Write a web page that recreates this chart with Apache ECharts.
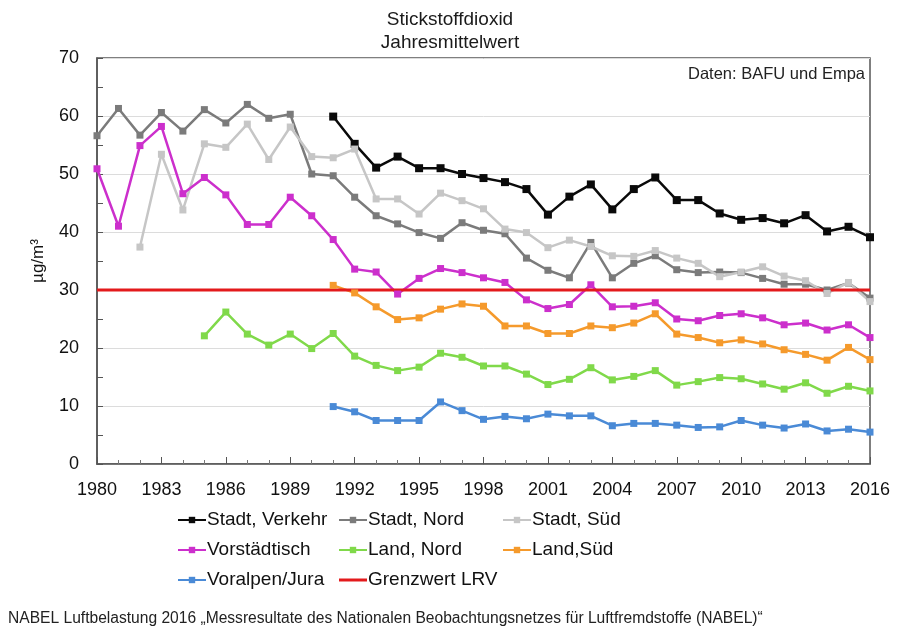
<!DOCTYPE html>
<html>
<head>
<meta charset="utf-8">
<script src="https://cdn.jsdelivr.net/npm/echarts@6/dist/echarts.min.js"></script>
<style>
html,body{margin:0;padding:0;background:#fff;}
#chart{width:900px;height:638px;}
</style>
</head>
<body>
<div id="chart"></div>
<script>
const years = [];
for (let y = 1980; y <= 2016; y++) years.push(y);

const stadtVerkehr = [null,null,null,null,null,null,null,null,null,null,
  null,59.9,55.2,51.1,53.0,51.0,51.0,50.0,49.3,48.6,
  47.4,43.0,46.1,48.2,43.9,47.4,49.4,45.5,45.5,43.2,
  42.1,42.4,41.5,42.9,40.1,40.9,39.1];
const stadtNord = [56.6,61.3,56.7,60.6,57.4,61.1,58.8,62.0,59.6,60.3,
  50.0,49.7,46.0,42.8,41.4,39.9,38.9,41.6,40.3,39.7,
  35.5,33.4,32.1,38.2,32.1,34.6,35.9,33.5,33.0,33.1,
  33.0,32.0,31.0,31.0,30.0,31.2,28.6];
const stadtSued = [null,null,37.4,53.4,43.8,55.2,54.6,58.6,52.5,58.1,
  53.0,52.8,54.3,45.7,45.7,43.1,46.7,45.4,44.0,40.5,
  39.9,37.3,38.6,37.5,35.9,35.8,36.8,35.5,34.6,32.3,
  33.1,34.0,32.4,31.6,29.4,31.3,28.0];
const vorstaedtisch = [50.9,41.0,54.9,58.2,46.6,49.4,46.4,41.3,41.3,46.0,
  42.8,38.7,33.6,33.1,29.3,32.0,33.7,33.0,32.1,31.3,
  28.3,26.8,27.5,30.9,27.1,27.2,27.8,25.0,24.7,25.6,
  25.9,25.2,24.0,24.3,23.1,24.0,21.8];
const landNord = [null,null,null,null,null,22.1,26.2,22.4,20.5,22.4,
  19.9,22.5,18.6,17.0,16.1,16.7,19.1,18.4,16.9,16.9,
  15.5,13.7,14.6,16.6,14.5,15.1,16.1,13.6,14.2,14.9,
  14.7,13.8,12.9,14.0,12.2,13.4,12.6];
const landSued = [null,null,null,null,null,null,null,null,null,null,
  null,30.8,29.5,27.1,24.9,25.2,26.7,27.6,27.2,23.8,
  23.8,22.5,22.5,23.8,23.5,24.3,25.9,22.4,21.8,20.9,
  21.4,20.7,19.7,18.9,17.9,20.1,18.0];
const voralpen = [null,null,null,null,null,null,null,null,null,null,
  null,9.9,9.0,7.5,7.5,7.5,10.7,9.2,7.7,8.2,
  7.8,8.6,8.3,8.3,6.6,7.0,7.0,6.7,6.3,6.4,
  7.5,6.7,6.2,6.9,5.7,6.0,5.5];
const grenzwertYears = [1980, 2016];
const grenzwert = [30, 30];

const FONT = '"Liberation Sans", Arial, sans-serif';

function pairs(xs, ys) { return xs.map((x, i) => [x, ys[i]]); }

function lineSeries(name, data, color, size) {
  return {
    name: name, type: 'line', data: pairs(years, data),
    symbol: 'rect', symbolSize: size || 7,
    itemStyle: { color: color },
    lineStyle: { color: color, width: 2.5 },
    emphasis: { disabled: true }, animation: false
  };
}

const chart = echarts.init(document.getElementById('chart'), null, { renderer: 'canvas' });

const legendBase = {
  orient: 'vertical', top: 505, itemWidth: 28, itemHeight: 8, itemGap: 10,
  textStyle: { fontFamily: FONT, fontSize: 19, color: '#111', lineHeight: 20, padding: [0,0,0,-4] },
  selectedMode: false
};

chart.setOption({
  backgroundColor: '#fff',
  animation: false,
  textStyle: { fontFamily: FONT },
  title: {
    text: 'Stickstoffdioxid\nJahresmittelwert',
    left: 'center', top: 3,
    textStyle: { fontFamily: FONT, fontSize: 19, fontWeight: 'normal', color: '#1a1a1a', lineHeight: 23 }
  },
  legend: [
    Object.assign({}, legendBase, { left: 172, data: ['Stadt, Verkehr', 'Vorstädtisch', 'Voralpen/Jura'] }),
    Object.assign({}, legendBase, { left: 333, data: ['Stadt, Nord', 'Land, Nord',
      { name: 'Grenzwert LRV', icon: 'path://M0 0H28V3H0Z', itemStyle: { color: '#e31a1c' } }] }),
    Object.assign({}, legendBase, { left: 497, data: ['Stadt, Süd', 'Land,Süd'] })
  ],
  grid: { left: 97, right: 30, top: 58, bottom: 174, show: true, borderColor: '#555', borderWidth: 1.5 },
  xAxis: {
    type: 'value', min: 1980, max: 2016, interval: 3,
    axisLine: { lineStyle: { color: '#555', width: 1.5 } },
    axisTick: { inside: true, length: 7, lineStyle: { color: '#555' } },
    minorTick: { show: true, splitNumber: 3, length: 4, lineStyle: { color: '#777' } },
    axisLabel: { fontFamily: FONT, fontSize: 18, color: '#111', margin: 17, formatter: v => String(v) },
    splitLine: { show: false }
  },
  yAxis: {
    type: 'value', min: 0, max: 70, interval: 10,
    name: 'µg/m³', nameLocation: 'middle', nameRotate: 90, nameGap: 50,
    nameTextStyle: { fontFamily: FONT, fontSize: 17, color: '#111' },
    axisLine: { show: true, lineStyle: { color: '#555', width: 1.5 } },
    axisTick: { show: true, inside: true, length: 6, lineStyle: { color: '#555' } },
    minorTick: { show: true, splitNumber: 2, length: 6, lineStyle: { color: '#555' } },
    axisLabel: { fontFamily: FONT, fontSize: 18, color: '#111', margin: 18 },
    splitLine: { show: true, lineStyle: { color: '#dcdcdc', width: 1 } }
  },
  graphic: [
    { type: 'text', right: 35, top: 66, style: { text: 'Daten: BAFU und Empa', font: '16.5px ' + FONT, fill: '#222' } },
    { type: 'text', left: 8, top: 611, style: { text: 'NABEL Luftbelastung 2016 „Messresultate des Nationalen Beobachtungsnetzes für Luftfremdstoffe (NABEL)“', font: '15.6px ' + FONT, fill: '#222' } }
  ],
  series: [
    lineSeries('Stadt, Verkehr', stadtVerkehr, '#0a0a0a', 8),
    lineSeries('Stadt, Nord', stadtNord, '#7b7b7b'),
    lineSeries('Stadt, Süd', stadtSued, '#c6c6c6'),
    lineSeries('Vorstädtisch', vorstaedtisch, '#cc2fcc'),
    lineSeries('Land, Nord', landNord, '#80d94a'),
    lineSeries('Land,Süd', landSued, '#f59a2c'),
    lineSeries('Voralpen/Jura', voralpen, '#4a8ad6'),
    {
      name: 'Grenzwert LRV', type: 'line', data: pairs(grenzwertYears, grenzwert),
      symbol: 'none', lineStyle: { color: '#e31a1c', width: 3 }, itemStyle: { color: '#e31a1c' },
      emphasis: { disabled: true }, animation: false
    }
  ]
});
</script>
</body>
</html>
